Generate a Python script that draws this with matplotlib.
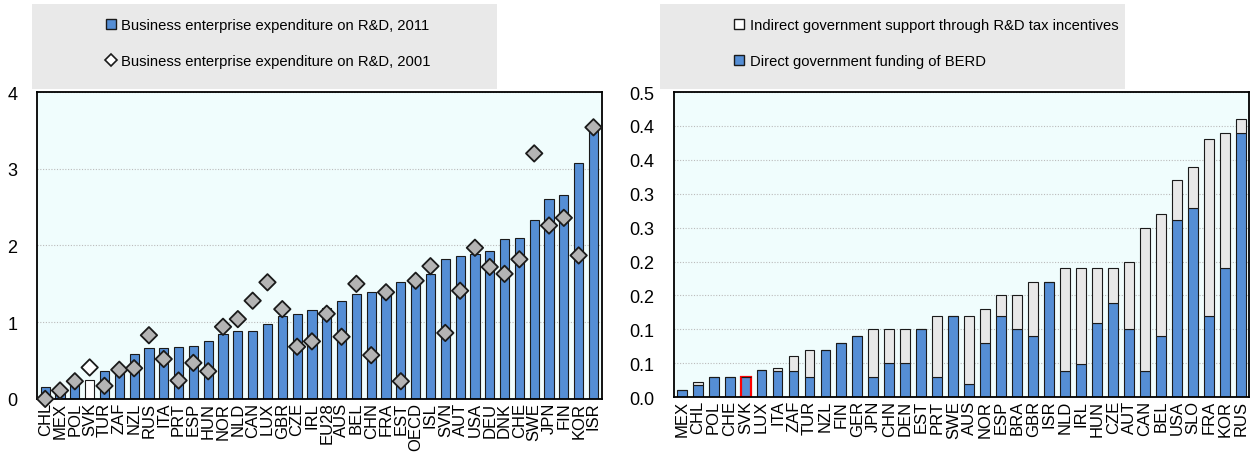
import matplotlib
matplotlib.use("Agg")
import matplotlib.pyplot as plt
from matplotlib.lines import Line2D
from matplotlib.patches import Rectangle

plt.rcParams['font.family'] = ['Liberation Sans', 'DejaVu Sans']

# left panel: BERD as % of GDP
berd_countries = ['CHL', 'MEX', 'POL', 'SVK', 'TUR', 'ZAF', 'NZL', 'RUS', 'ITA', 'PRT',
                  'ESP', 'HUN', 'NOR', 'NLD', 'CAN', 'LUX', 'GBR', 'CZE', 'IRL', 'EU28',
                  'AUS', 'BEL', 'CHN', 'FRA', 'EST', 'OECD', 'ISL', 'SVN', 'AUT', 'USA',
                  'DEU', 'DNK', 'CHE', 'SWE', 'JPN', 'FIN', 'KOR', 'ISR']
berd_2011 = [0.15, 0.08, 0.19, 0.25, 0.36, 0.39, 0.58, 0.66, 0.67, 0.68,
             0.69, 0.75, 0.85, 0.88, 0.89, 0.98, 1.08, 1.11, 1.16, 1.19,
             1.27, 1.37, 1.39, 1.40, 1.52, 1.54, 1.63, 1.82, 1.86, 1.89,
             1.93, 2.08, 2.10, 2.33, 2.60, 2.66, 3.08, 3.54]
berd_2001 = [0.00, 0.11, 0.23, 0.41, 0.17, 0.38, 0.40, 0.83, 0.52, 0.24,
             0.47, 0.36, 0.94, 1.04, 1.28, 1.52, 1.17, 0.68, 0.75, 1.11,
             0.81, 1.50, 0.57, 1.39, 0.23, 1.54, 1.73, 0.86, 1.41, 1.97,
             1.72, 1.63, 1.82, 3.20, 2.26, 2.36, 1.87, 3.54]

# right panel: government support for business R&D as % of GDP
gov_countries = ['MEX', 'CHL', 'POL', 'CHE', 'SVK', 'LUX', 'ITA', 'ZAF', 'TUR', 'NZL',
                 'FIN', 'GER', 'JPN', 'CHN', 'DEN', 'EST', 'PRT', 'SWE', 'AUS', 'NOR',
                 'ESP', 'BRA', 'GBR', 'ISR', 'NLD', 'IRL', 'HUN', 'CZE', 'AUT', 'CAN',
                 'BEL', 'USA', 'SLO', 'FRA', 'KOR', 'RUS']
direct = [0.010, 0.018, 0.030, 0.030, 0.030, 0.040, 0.039, 0.039, 0.030, 0.070,
          0.080, 0.090, 0.030, 0.050, 0.050, 0.100, 0.030, 0.120, 0.020, 0.080,
          0.120, 0.100, 0.090, 0.170, 0.039, 0.049, 0.110, 0.139, 0.100, 0.039,
          0.090, 0.261, 0.279, 0.120, 0.190, 0.390]
indirect = [0.000, 0.004, 0.000, 0.000, 0.000, 0.000, 0.004, 0.021, 0.040, 0.000,
            0.000, 0.000, 0.070, 0.050, 0.050, 0.000, 0.090, 0.000, 0.100, 0.050,
            0.030, 0.050, 0.080, 0.000, 0.151, 0.141, 0.080, 0.051, 0.100, 0.211,
            0.180, 0.059, 0.061, 0.260, 0.200, 0.020]
gov_ticks = [0, 0.05, 0.10, 0.15, 0.20, 0.25, 0.30, 0.35, 0.40, 0.45]
gov_tick_labels = ['0.0', '0.1', '0.1', '0.2', '0.2', '0.3', '0.3', '0.4', '0.4', '0.5']

blue = '#558ed5'
light = '#e8e8e8'
edge = '#1a1a1a'
bg = '#f0fdfd'
box_bg = '#e9e9e9'

fig = plt.figure(figsize=(12.56, 4.56), dpi=100)
ax1 = fig.add_axes([0.0295, 0.123, 0.4495, 0.673])
ax2 = fig.add_axes([0.5366, 0.127, 0.4578, 0.669])

# left panel
x1 = range(len(berd_countries))
fc1 = ['white' if c == 'SVK' else blue for c in berd_countries]
ax1.bar(x1, berd_2011, width=0.62, color=fc1, edgecolor=edge, linewidth=0.8, zorder=2)
dfc = ['white' if c == 'SVK' else '#b4b4b4' for c in berd_countries]
ax1.scatter(x1, berd_2001, marker='D', s=70, c=dfc, edgecolors=edge, linewidths=1.3,
            zorder=3, clip_on=False)
ax1.set_xlim(-0.55, len(berd_countries) - 0.45)
ax1.set_ylim(0, 4)
ax1.set_yticks([0, 1, 2, 3, 4])
ax1.set_xticks(list(x1))
ax1.set_xticklabels(berd_countries, rotation=90, fontsize=12)

# right panel
x2 = range(len(gov_countries))
ec2 = ['red' if c == 'SVK' else edge for c in gov_countries]
lw2 = [1.6 if c == 'SVK' else 0.8 for c in gov_countries]
ax2.bar(x2, direct, width=0.62, color=blue, edgecolor=ec2, linewidth=lw2, zorder=2)
ax2.bar(x2, indirect, bottom=direct, width=0.62, color=light, edgecolor=edge,
        linewidth=0.8, zorder=2)
ax2.set_xlim(-0.48, len(gov_countries) - 0.5)
ax2.set_ylim(0, 0.45)
ax2.set_yticks(gov_ticks)
ax2.set_yticklabels(gov_tick_labels)
ax2.set_xticks(list(x2))
ax2.set_xticklabels(gov_countries, rotation=90, fontsize=12)

for ax in (ax1, ax2):
    ax.set_facecolor(bg)
    ax.yaxis.grid(True, linestyle=(0, (1, 1.5)), color='#bbbbbb', linewidth=0.8, zorder=0)
    ax.set_axisbelow(True)
    ax.tick_params(length=0)
    ax.tick_params(axis='y', labelsize=13, pad=14)
    ax.tick_params(axis='x', pad=2)
    for s in ax.spines.values():
        s.set_linewidth(1.3)
        s.set_color('black')

# legend boxes
for x0 in (32, 660):
    fig.patches.append(Rectangle((x0 / 1256, 1 - 90 / 456), 465 / 1256, 85 / 456,
                                 transform=fig.transFigure, facecolor=box_bg,
                                 edgecolor='none', zorder=0))

h1 = [Line2D([], [], marker='s', linestyle='none', markersize=7.5, markerfacecolor=blue,
             markeredgecolor=edge, markeredgewidth=1.0),
      Line2D([], [], marker='D', linestyle='none', markersize=6, markerfacecolor='white',
             markeredgecolor=edge, markeredgewidth=1.2)]
fig.legend(h1, ['Business enterprise expenditure on R&D, 2011',
                'Business enterprise expenditure on R&D, 2001'],
           loc='center', bbox_to_anchor=(268 / 1256, 1 - 44 / 456), frameon=False,
           fontsize=10.6, handlelength=0.7, handletextpad=0.35, labelspacing=1.45)

h2 = [Line2D([], [], marker='s', linestyle='none', markersize=7.5, markerfacecolor='white',
             markeredgecolor=edge, markeredgewidth=1.0),
      Line2D([], [], marker='s', linestyle='none', markersize=7.5, markerfacecolor=blue,
             markeredgecolor=edge, markeredgewidth=1.0)]
fig.legend(h2, ['Indirect government support through R&D tax incentives',
                'Direct government funding of BERD'],
           loc='center left', bbox_to_anchor=(721 / 1256, 1 - 44 / 456), frameon=False,
           fontsize=10.6, handlelength=0.7, handletextpad=0.35, labelspacing=1.45)

fig.savefig('out.png', dpi=100)
